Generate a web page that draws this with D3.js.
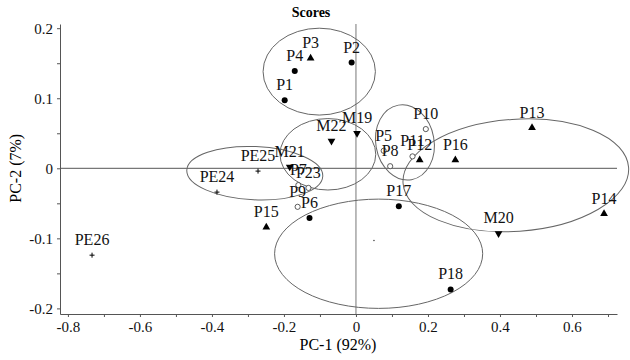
<!DOCTYPE html>
<html>
<head>
<meta charset="utf-8">
<script src="https://cdn.jsdelivr.net/npm/d3@7"></script>
<style>
  body { margin: 0; background: #fff; }
  text { font-family: "Liberation Serif", "Times New Roman", serif; }
</style>
</head>
<body>
<div id="plot"></div>
<script>
// sample scores
var names  = ["P1","P2","P3","P4","P5","P6","P7","P8","P9","P10","P11","P12","P13","P14","P15","P16","P17","P18",
              "M19","M20","M21","M22","P23","PE24","PE25","PE26"];
var pc1    = [-0.198,-0.012,-0.126,-0.170, 0.077,-0.129,-0.160, 0.095,-0.162, 0.194, 0.157, 0.177, 0.489, 0.689,-0.249, 0.276, 0.119, 0.263,
               0.003, 0.396,-0.184,-0.068,-0.132,-0.386,-0.272,-0.733];
var pc2    = [ 0.097, 0.151, 0.157, 0.139, 0.025,-0.071,-0.024, 0.003,-0.055, 0.056, 0.017, 0.012, 0.058,-0.065,-0.084, 0.012,-0.054,-0.173,
               0.050,-0.093, 0.002, 0.039,-0.028,-0.034,-0.004,-0.124];
var shapes = ["dot","dot","up","dot","ring","dot","ring","ring","ring","ring","ring","up","up","up","up","up","dot","dot",
              "down","down","down","down","ring","plus","plus","plus"];

// group ellipses (centre, radii in score units, tilt in degrees)
var ellCx    = [-0.102,-0.078,-0.281, 0.136, 0.444, 0.063];
var ellCy    = [ 0.138, 0.020,-0.007, 0.037,-0.010,-0.122];
var ellRx    = [ 0.156, 0.133, 0.189, 0.081, 0.314, 0.289];
var ellRy    = [ 0.062, 0.051, 0.038, 0.054, 0.080, 0.078];
var ellAngle = [ 0, 0, 2.5, -10, -4, 0];

// small centre mark of the lower ellipse
var centreMark = [0.05, -0.103];

var xTicks = d3.range(-8, 8).map(d => d / 10);
var yTicks = d3.range(-4, 5).map(d => d / 20);

var width = 630, height = 360;
var svg = d3.select("#plot").append("svg")
  .attr("width", width).attr("height", height);

var x = d3.scaleLinear().domain([-0.822, 0.725]).range([60, 617]);
var y = d3.scaleLinear().domain([-0.208, 0.206]).range([314, 24]);

function fmt(v) {
  var r = Math.round(v * 10);
  return r === 0 ? "0" : String(r / 10);
}

// axes
var xAxis = svg.append("g")
  .attr("transform", "translate(0," + y.range()[0] + ")")
  .call(d3.axisBottom(x).tickValues(xTicks).tickSize(3).tickSizeOuter(0).tickPadding(4)
    .tickFormat(d => Math.round(d * 10) % 2 === 0 ? fmt(d) : ""));
var yAxis = svg.append("g")
  .attr("transform", "translate(" + x.range()[0] + ",0)")
  .call(d3.axisLeft(y).tickValues(yTicks).tickSize(3).tickSizeOuter(0).tickPadding(4)
    .tickFormat(d => Math.round(d * 20) % 2 === 0 ? fmt(d) : ""));

[xAxis, yAxis].forEach(function(g) {
  g.select(".domain").attr("stroke", "#555");
  g.selectAll(".tick line").attr("stroke", "#555");
  g.selectAll("text").attr("fill", "#111").style("font-size", "15px")
    .style("font-family", "'Liberation Serif', serif");
});

// zero lines
svg.append("line")
  .attr("x1", x.range()[0]).attr("x2", x.range()[1])
  .attr("y1", y(0)).attr("y2", y(0))
  .attr("stroke", "#555");
svg.append("line")
  .attr("x1", x(0)).attr("x2", x(0))
  .attr("y1", y.range()[0]).attr("y2", y.range()[1])
  .attr("stroke", "#777");

// ellipses
ellCx.forEach(function(cx, i) {
  var px = x(cx), py = y(ellCy[i]);
  svg.append("ellipse")
    .attr("cx", px).attr("cy", py)
    .attr("rx", x(cx + ellRx[i]) - px)
    .attr("ry", py - y(ellCy[i] + ellRy[i]))
    .attr("transform", "rotate(" + ellAngle[i] + "," + px + "," + py + ")")
    .attr("fill", "none")
    .attr("stroke", "#666")
    .attr("stroke-width", 1);
});

svg.append("circle")
  .attr("cx", x(centreMark[0])).attr("cy", y(centreMark[1]))
  .attr("r", 0.8).attr("fill", "#444");

// points
var tri = d3.symbol().type(d3.symbolTriangle).size(26);
var pts = svg.append("g");
names.forEach(function(n, i) {
  var px = x(pc1[i]), py = y(pc2[i]), s = shapes[i];
  if (s === "dot") {
    pts.append("circle").attr("cx", px).attr("cy", py).attr("r", 3).attr("fill", "#000");
  } else if (s === "ring") {
    pts.append("circle").attr("cx", px).attr("cy", py).attr("r", 2.6)
      .attr("fill", "#fff").attr("stroke", "#333").attr("stroke-width", 0.8);
  } else if (s === "up" || s === "down") {
    pts.append("path").attr("d", tri)
      .attr("transform", "translate(" + px + "," + py + ")" + (s === "down" ? " rotate(180)" : ""))
      .attr("fill", "#000");
  } else {
    pts.append("path")
      .attr("d", "M" + (px - 2.5) + "," + py + "H" + (px + 2.5) + "M" + px + "," + (py - 2.5) + "V" + (py + 2.5))
      .attr("stroke", "#000").attr("stroke-width", 1);
  }
  pts.append("text")
    .attr("x", px).attr("y", py - 10)
    .attr("text-anchor", "middle")
    .style("font-size", "16px")
    .attr("fill", "#111")
    .text(n);
});

// titles
svg.append("text")
  .attr("x", 311).attr("y", 17)
  .attr("text-anchor", "middle")
  .style("font-size", "14px").style("font-weight", "bold")
  .text("Scores");

svg.append("text")
  .attr("x", 338).attr("y", 350)
  .attr("text-anchor", "middle")
  .style("font-size", "16px")
  .text("PC-1 (92%)");

svg.append("text")
  .attr("transform", "translate(21," + y(0) + ") rotate(-90)")
  .attr("text-anchor", "middle")
  .style("font-size", "16px")
  .text("PC-2 (7%)");
</script>
</body>
</html>
